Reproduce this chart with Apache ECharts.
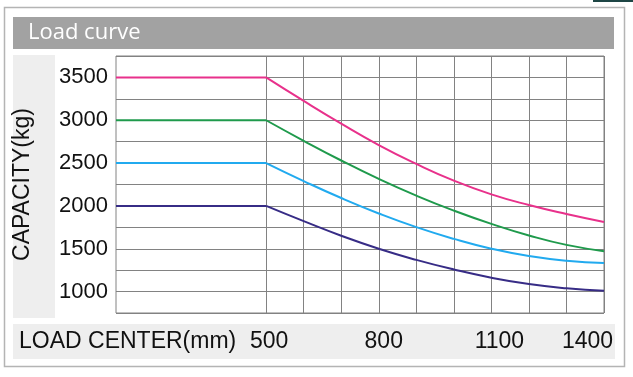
<!DOCTYPE html>
<html>
<head>
<meta charset="utf-8">
<script src="https://cdn.jsdelivr.net/npm/echarts@6.0.0/dist/echarts.min.js"></script>
<style>
  html, body { margin: 0; padding: 0; background: #fff; }
  #chart { width: 633px; height: 377px; }
</style>
</head>
<body>
<div id="chart"></div>
<script>
// load center (mm) of the curve points
var loadCenters = [500, 600, 700, 800, 900, 1000, 1100, 1200, 1300, 1400];
var flatStart = 100; // left edge of the plot, flat part runs up to 500

// capacity (kg) per load center, one array per truck
var cap3500 = [3500, 3225, 2960, 2710, 2490, 2295, 2135, 2010, 1905, 1812];
var cap3000 = [3000, 2760, 2530, 2315, 2120, 1945, 1790, 1655, 1545, 1472];
var cap2500 = [2500, 2290, 2092, 1912, 1752, 1615, 1500, 1415, 1360, 1334];
var cap2000 = [2000, 1822, 1652, 1500, 1370, 1258, 1162, 1088, 1038, 1010];

// tick labels that are printed
var xTickLabels = [500, 800, 1100, 1400];
var yTickLabels = [1000, 1500, 2000, 2500, 3000, 3500];

var curves = [
  { values: cap3500, color: "#e8318b" },
  { values: cap3000, color: "#1f9a4c" },
  { values: cap2500, color: "#21aaef" },
  { values: cap2000, color: "#372c86" }
];

var font = "'Liberation Sans', Arial, sans-serif";
var gridColor = "#828282";

// vertical grid lines only from 500 on
var xSplitColors = [];
for (var v = flatStart; v <= 1400; v += 100) {
  xSplitColors.push(v < 500 ? "rgba(0,0,0,0)" : gridColor);
}

var serObj = [];
curves.forEach(function (c) {
  // flat part
  serObj.push({
    type: "line",
    symbol: "none",
    lineStyle: { color: c.color, width: 2 },
    data: [[flatStart, c.values[0]], [loadCenters[0], c.values[0]]]
  });
  // falling part
  serObj.push({
    type: "line",
    symbol: "none",
    smooth: 0.5,
    lineStyle: { color: c.color, width: 2 },
    data: loadCenters.map(function (x, i) {
      return [x, c.values[i]];
    })
  });
});

var chart = echarts.init(document.getElementById("chart"));
var option = {
  animation: false,
  graphic: [
    // frame
    {
      type: "rect", z: -10,
      shape: { x: 4.5, y: 7.5, width: 620, height: 359 },
      style: { fill: "#fff", stroke: "#b4b4b4", lineWidth: 1.5 }
    },
    // title bar
    {
      type: "rect", z: -9,
      shape: { x: 13, y: 17, width: 601, height: 32 },
      style: { fill: "#a2a2a2" }
    },
    {
      type: "text", z: 10, left: 28, top: 22,
      style: { text: "Load curve", fill: "#fff", font: "500 22px 'Open Sans', sans-serif", y: 3 }
    },
    // band behind y axis name
    {
      type: "rect", z: -9,
      shape: { x: 13, y: 55, width: 42, height: 263 },
      style: { fill: "#eeeeee" }
    },
    // band behind x labels
    {
      type: "rect", z: -9,
      shape: { x: 13, y: 324, width: 602, height: 35 },
      style: { fill: "#eeeeee" }
    },
    {
      type: "text", z: 10, left: 19, top: 330,
      style: { text: "LOAD CENTER(mm)", fill: "#111", font: "23px " + font }
    },
    // small dark mark at the top right corner
    {
      type: "rect", z: -8,
      shape: { x: 593, y: 0, width: 40, height: 2 },
      style: { fill: "#1e4645" }
    }
  ],
  grid: {
    left: 116,
    top: 56,
    right: 29,
    bottom: 64,
    show: true,
    borderColor: gridColor,
    borderWidth: 1,
    backgroundColor: "#fff"
  },
  xAxis: {
    type: "value",
    min: flatStart,
    max: 1400,
    interval: 100,
    axisLine: { show: false },
    axisTick: { show: false },
    splitLine: { show: true, lineStyle: { color: xSplitColors, width: 1 } },
    axisLabel: {
      margin: 17,
      fontSize: 23,
      fontFamily: font,
      color: "#111",
      formatter: function (val) {
        if (xTickLabels.indexOf(val) < 0) return "";
        return "{t" + val + "|" + val + "}";
      },
      rich: {
        t500: { fontSize: 23, fontFamily: font, color: "#111", padding: [0, 0, 0, 6] },
        t800: { fontSize: 23, fontFamily: font, color: "#111", padding: [0, 0, 0, 10] },
        t1100: { fontSize: 23, fontFamily: font, color: "#111", padding: [0, 0, 0, 16] },
        t1400: { fontSize: 23, fontFamily: font, color: "#111", padding: [0, 33, 0, 0] }
      }
    }
  },
  yAxis: {
    type: "value",
    min: 750,
    max: 3750,
    interval: 250,
    name: "CAPACITY(kg)",
    nameLocation: "middle",
    nameGap: 82,
    nameTextStyle: { fontSize: 23, fontFamily: font, color: "#111" },
    axisLine: { show: false },
    axisTick: { show: false },
    splitLine: { show: true, lineStyle: { color: gridColor, width: 1 } },
    axisLabel: {
      margin: 8,
      fontSize: 22,
      fontFamily: font,
      color: "#111",
      formatter: function (val) {
        return yTickLabels.indexOf(val) < 0 ? "" : String(val);
      }
    }
  },
  series: serObj
};
chart.setOption(option);
</script>
</body>
</html>
